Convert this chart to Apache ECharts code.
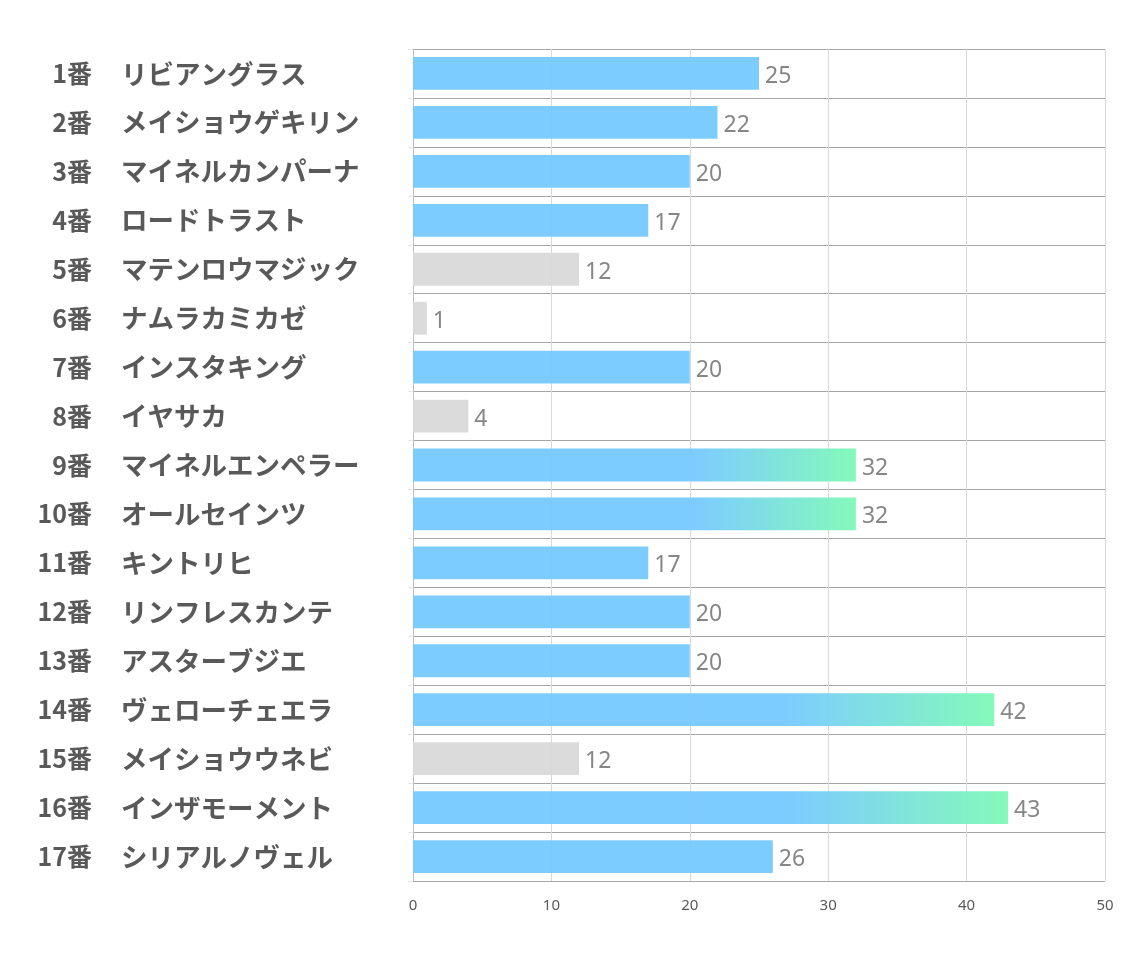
<!DOCTYPE html>
<html><head><meta charset="utf-8">
<script src="https://cdn.jsdelivr.net/npm/echarts@6/dist/echarts.min.js"></script>
<style>html,body{margin:0;padding:0;background:#fff}#c{width:1134px;height:964px}</style>
</head><body><div id="c"></div>
<script>
const numbers = ['1番','2番','3番','4番','5番','6番','7番','8番','9番','10番','11番','12番','13番','14番','15番','16番','17番'];
const names = ['リビアングラス','メイショウゲキリン','マイネルカンパーナ','ロードトラスト','マテンロウマジック','ナムラカミカゼ','インスタキング','イヤサカ','マイネルエンペラー','オールセインツ','キントリヒ','リンフレスカンテ','アスターブジエ','ヴェローチェエラ','メイショウウネビ','インザモーメント','シリアルノヴェル'];
const values = [25,22,20,17,12,1,20,4,32,32,17,20,20,42,12,43,26];
const xTicks = [0,10,20,30,40,50];

const BLUE = '#76C9FF', GREEN = '#7DF9B6', GRAY = '#D9D9D9';
function colorFor(v){
  if (v >= 30) return {type:'linear',x:0,y:0,x2:1,y2:0,colorStops:[{offset:0,color:BLUE},{offset:0.64,color:BLUE},{offset:1,color:GREEN}]};
  if (v <= 12) return GRAY;
  return BLUE;
}
const JP = '"Noto Sans CJK JP",sans-serif';
const chart = echarts.init(document.getElementById('c'));
chart.setOption({
  animation:false,
  grid:{left:413,right:29,top:49,bottom:83,containLabel:false},
  xAxis:{type:'value',min:xTicks[0],max:xTicks[xTicks.length-1],interval:10,
    axisLine:{show:false},axisTick:{show:false},
    axisLabel:{color:'#595959',fontSize:15,margin:17,fontFamily:'"Noto Sans","Open Sans",sans-serif'},
    splitLine:{show:true,lineStyle:{color:'#d9d9d9',width:1}}},
  yAxis:[
    {type:'category',inverse:true,data:numbers,position:'left',
      axisLine:{show:true,lineStyle:{color:'#bfbfbf'}},
      axisTick:{show:true,length:5,lineStyle:{color:'#e6e6e6'}},
      splitLine:{show:true,lineStyle:{color:'#a6a6a6',width:1}},
      axisLabel:{margin:321,align:'right',fontSize:25,fontWeight:'bold',color:'#595959',fontFamily:JP}},
    {type:'category',inverse:true,data:names,position:'left',
      axisLine:{show:false},axisTick:{show:false},splitLine:{show:false},
      axisLabel:{margin:292,align:'left',fontSize:26.5,fontWeight:'bold',color:'#595959',fontFamily:JP}}
  ],
  series:[{type:'bar',yAxisIndex:0,barCategoryGap:'33%',
    data:values.map(v=>({value:v,itemStyle:{color:colorFor(v),opacity:0.95}})),
    label:{show:true,position:'right',distance:6,offset:[0,3],color:'#7f7f7f',fontSize:23,fontFamily:'"Noto Sans","Open Sans",sans-serif'}
  }]
});
</script></body></html>
